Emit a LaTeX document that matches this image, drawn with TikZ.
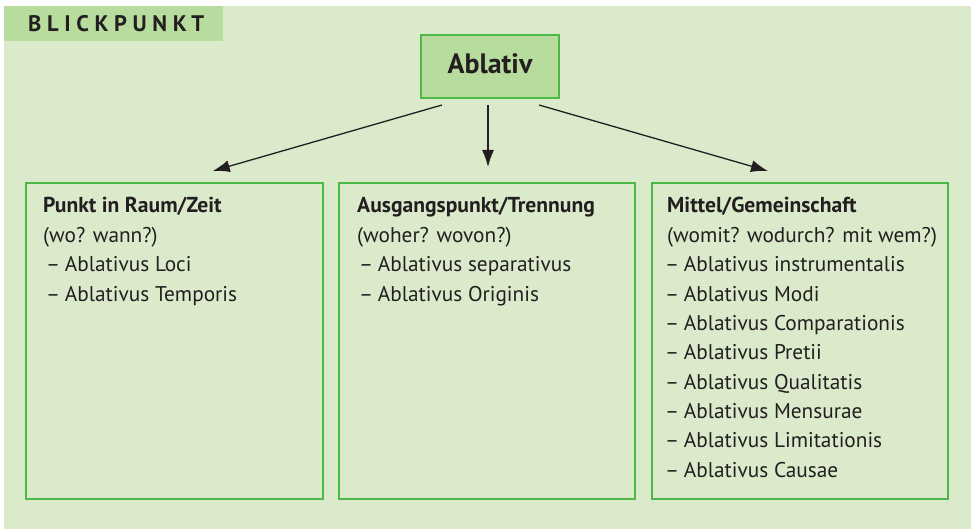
\documentclass[tikz,border=0pt]{standalone}
\usepackage{fontspec}
\setmainfont{PT Sans}
\usetikzlibrary{arrows.meta}
\definecolor{bg}{HTML}{DBEACB}
\definecolor{tabfill}{HTML}{B7DC9D}
\definecolor{gborder}{HTML}{4CB848}
\definecolor{txt}{HTML}{231F20}
\tikzset{
  boxstyle/.style={draw=gborder, line width=2pt, rectangle, inner sep=0pt},
  txtstyle/.style={anchor=base west, inner sep=0pt, text=txt, font=\fontsize{21.3}{24}\selectfont},
  headstyle/.style={txtstyle, font=\fontsize{21.6}{24}\selectfont\bfseries},
  arr/.style={draw=txt, line width=1.3pt, -{Latex[length=17pt,width=12pt]}}
}
\newcommand{\itemdash}{\kern-2pt–\kern-1pt\ }
\begin{document}
\begin{tikzpicture}[x=1pt,y=-1pt]
\useasboundingbox (0,0) rectangle (971,529);
\fill[bg] (4,6) rectangle (971,529);
\node[fill=tabfill, minimum width=219pt, minimum height=34.5pt, inner sep=0pt, anchor=north west] (tab) at (4,6) {};
\node[anchor=base west, inner sep=0pt, text=txt, font=\fontsize{22.5}{26}\selectfont\bfseries\addfontfeature{LetterSpace=25}] (tabtext) at (28,32) {BLICKPUNKT};

\node[boxstyle, fill=tabfill, minimum width=138pt, minimum height=63pt] (abl) at (490,66.5) {};
\node[anchor=base, inner sep=0pt, text=txt, font=\fontsize{28}{32}\selectfont\bfseries] (abltext) at (490,73.5) {Ablativ};

\node[boxstyle, minimum width=297pt, minimum height=316pt] (b1) at (174.75,341) {};
\node[boxstyle, minimum width=296pt, minimum height=316pt] (b2) at (487,341) {};
\node[boxstyle, minimum width=296pt, minimum height=316pt] (b3) at (800,341) {};

\draw[arr] ([xshift=22pt,yshift=-6pt]abl.south west) -- ([xshift=38pt,yshift=11pt]b1.north);
\draw[arr] ([xshift=-2pt,yshift=-6pt]abl.south) -- ([xshift=1pt,yshift=15pt]b2.north);
\draw[arr] ([xshift=-21pt,yshift=-6pt]abl.south east) -- ([xshift=-32pt,yshift=11pt]b3.north);

% left box
\node[headstyle] (l1) at (43,213) {Punkt in Raum/Zeit};
\node[txtstyle] (l2) at (43,243) {(wo? wann?)};
\node[txtstyle] (l3) at (48,272) {\itemdash Ablativus Loci};
\node[txtstyle] (l4) at (48,301.3) {\itemdash Ablativus Temporis};

% middle box
\node[headstyle] (m1) at (357,213) {Ausgangspunkt/Trennung};
\node[txtstyle] (m2) at (357,243) {(woher? wovon?)};
\node[txtstyle] (m3) at (361,272) {\itemdash Ablativus separativus};
\node[txtstyle] (m4) at (361,301.3) {\itemdash Ablativus Originis};

% right box
\node[headstyle] (r1) at (667,213) {Mittel/Gemeinschaft};
\node[txtstyle] (r2) at (667,243) {(womit? wodurch? mit wem?)};
\node[txtstyle] (r3) at (667,272) {\itemdash Ablativus instrumentalis};
\node[txtstyle] (r4) at (667,301.3) {\itemdash Ablativus Modi};
\node[txtstyle] (r5) at (667,330.6) {\itemdash Ablativus Comparationis};
\node[txtstyle] (r6) at (667,359.9) {\itemdash Ablativus Pretii};
\node[txtstyle] (r7) at (667,389.2) {\itemdash Ablativus Qualitatis};
\node[txtstyle] (r8) at (667,418.5) {\itemdash Ablativus Mensurae};
\node[txtstyle] (r9) at (667,447.8) {\itemdash Ablativus Limitationis};
\node[txtstyle] (r10) at (667,477.1) {\itemdash Ablativus Causae};
\end{tikzpicture}
\end{document}
